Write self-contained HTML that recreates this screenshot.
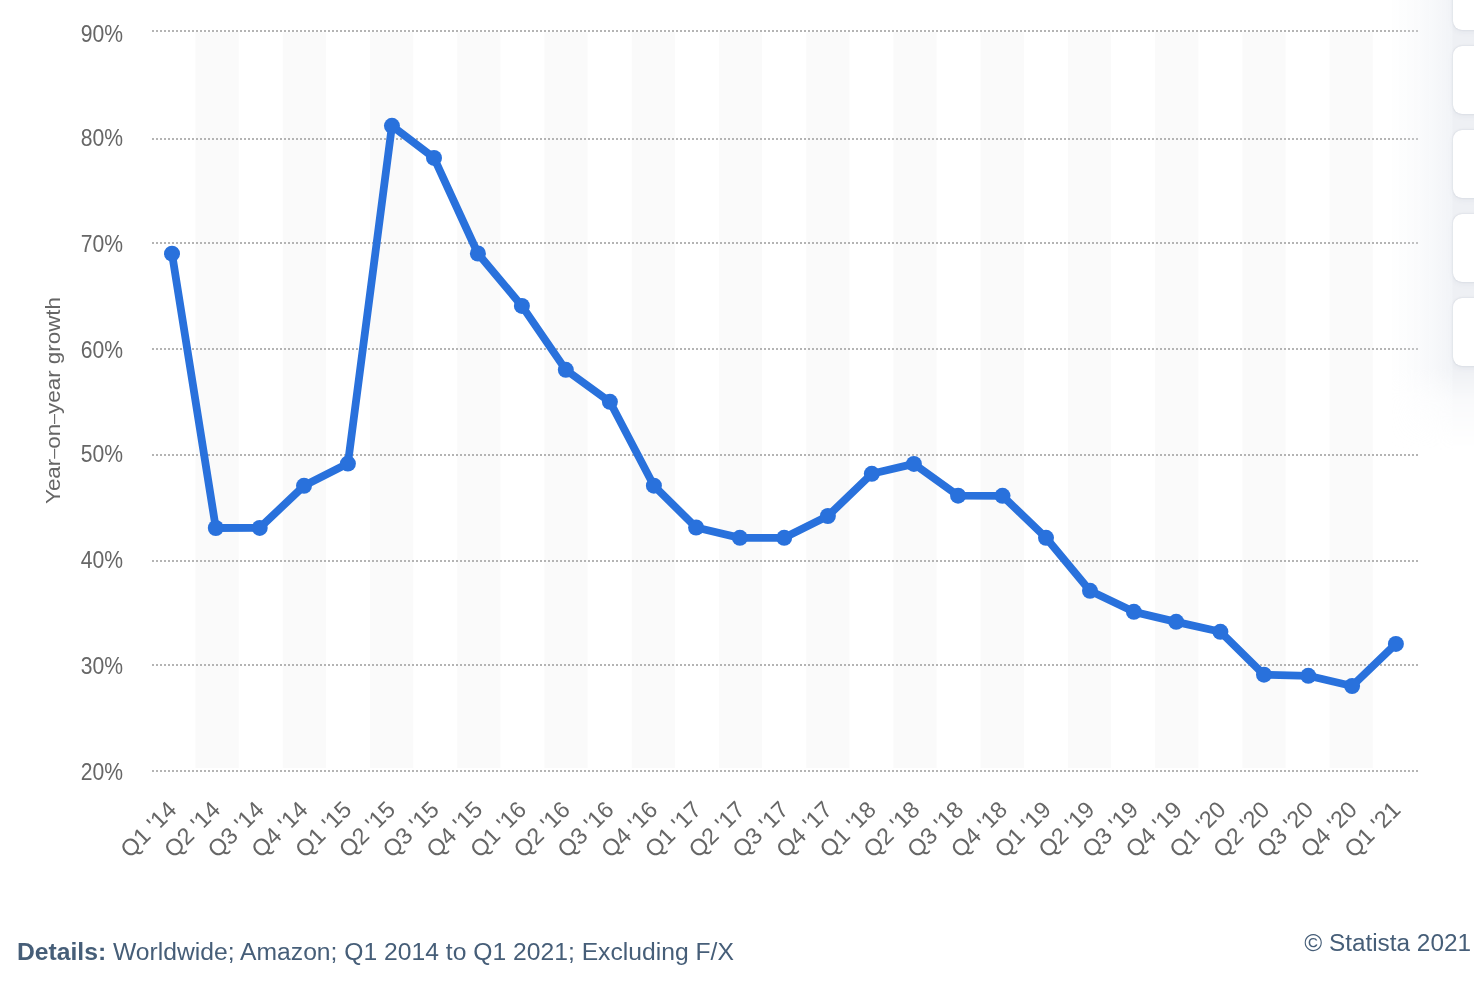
<!DOCTYPE html>
<html><head><meta charset="utf-8"><style>
html,body{margin:0;padding:0;background:#fff;width:1474px;height:990px;overflow:hidden;position:relative;font-family:"Liberation Sans", sans-serif;}
svg{position:absolute;left:0;top:0;will-change:transform;}
.yl{font-size:24px;fill:#666;}
.yt{font-size:20px;fill:#666;}
.xl{font-size:23.3px;fill:#666;}
.details{will-change:transform;position:absolute;left:17px;top:937px;transform:scaleX(1.05);transform-origin:0 0;font-size:23.5px;color:#465e78;white-space:nowrap;line-height:30px;}
.details b{font-weight:bold;}
.copy{will-change:transform;position:absolute;right:2.5px;top:928px;transform:scaleX(1.036);transform-origin:100% 0;font-size:23.5px;color:#465e78;white-space:nowrap;line-height:30px;}
.side{position:absolute;left:1453px;top:0;width:60px;height:366px;}
.btn{position:absolute;left:0;width:60px;height:68px;background:#fff;border-radius:9px;box-shadow:0 0 2px rgba(40,55,90,0.16), 0 2px 6px rgba(40,55,90,0.05);}
.shade{position:absolute;left:1388px;top:0;width:86px;height:460px;
background:linear-gradient(to right, rgba(236,239,244,0) 0px, rgba(236,239,244,0.25) 30px, rgba(236,239,244,0.5) 52px, rgba(236,239,244,0.7) 64px, rgba(238,240,244,1) 65px, rgba(238,240,244,1) 86px);
-webkit-mask-image:linear-gradient(to bottom, #000 0px, #000 368px, rgba(0,0,0,0.35) 400px, rgba(0,0,0,0) 450px);mask-image:linear-gradient(to bottom, #000 0px, #000 368px, rgba(0,0,0,0.35) 400px, rgba(0,0,0,0) 450px);}
</style></head><body>
<svg width="1474" height="990" viewBox="0 0 1474 990">
<rect x="195.50" y="32" width="43.2" height="736" fill="#fafafa"/>
<rect x="282.74" y="32" width="43.2" height="736" fill="#fafafa"/>
<rect x="369.98" y="32" width="43.2" height="736" fill="#fafafa"/>
<rect x="457.22" y="32" width="43.2" height="736" fill="#fafafa"/>
<rect x="544.46" y="32" width="43.2" height="736" fill="#fafafa"/>
<rect x="631.70" y="32" width="43.2" height="736" fill="#fafafa"/>
<rect x="718.94" y="32" width="43.2" height="736" fill="#fafafa"/>
<rect x="806.18" y="32" width="43.2" height="736" fill="#fafafa"/>
<rect x="893.42" y="32" width="43.2" height="736" fill="#fafafa"/>
<rect x="980.66" y="32" width="43.2" height="736" fill="#fafafa"/>
<rect x="1067.90" y="32" width="43.2" height="736" fill="#fafafa"/>
<rect x="1155.14" y="32" width="43.2" height="736" fill="#fafafa"/>
<rect x="1242.38" y="32" width="43.2" height="736" fill="#fafafa"/>
<rect x="1329.62" y="32" width="43.2" height="736" fill="#fafafa"/>
<line x1="152" y1="771.0" x2="1418" y2="771.0" stroke="#b4b4b4" stroke-width="2" stroke-dasharray="2 2"/>
<line x1="152" y1="665.0" x2="1418" y2="665.0" stroke="#b4b4b4" stroke-width="2" stroke-dasharray="2 2"/>
<line x1="152" y1="561.0" x2="1418" y2="561.0" stroke="#b4b4b4" stroke-width="2" stroke-dasharray="2 2"/>
<line x1="152" y1="455.0" x2="1418" y2="455.0" stroke="#b4b4b4" stroke-width="2" stroke-dasharray="2 2"/>
<line x1="152" y1="349.0" x2="1418" y2="349.0" stroke="#b4b4b4" stroke-width="2" stroke-dasharray="2 2"/>
<line x1="152" y1="243.0" x2="1418" y2="243.0" stroke="#b4b4b4" stroke-width="2" stroke-dasharray="2 2"/>
<line x1="152" y1="139.0" x2="1418" y2="139.0" stroke="#b4b4b4" stroke-width="2" stroke-dasharray="2 2"/>
<line x1="152" y1="31.0" x2="1418" y2="31.0" stroke="#b4b4b4" stroke-width="2" stroke-dasharray="2 2"/>
<text transform="translate(123.1,780.0) scale(0.88,1)" text-anchor="end" class="yl">20%</text>
<text transform="translate(123.1,674.0) scale(0.88,1)" text-anchor="end" class="yl">30%</text>
<text transform="translate(123.1,568.1) scale(0.88,1)" text-anchor="end" class="yl">40%</text>
<text transform="translate(123.1,462.1) scale(0.88,1)" text-anchor="end" class="yl">50%</text>
<text transform="translate(123.1,358.1) scale(0.88,1)" text-anchor="end" class="yl">60%</text>
<text transform="translate(123.1,252.0) scale(0.88,1)" text-anchor="end" class="yl">70%</text>
<text transform="translate(123.1,146.0) scale(0.88,1)" text-anchor="end" class="yl">80%</text>
<text transform="translate(123.1,42.0) scale(0.88,1)" text-anchor="end" class="yl">90%</text>
<text transform="translate(59.7,400.5) rotate(-90) scale(1.12,1)" text-anchor="middle" class="yt">Year<tspan font-size="16" dy="-1.2">–</tspan><tspan dy="1.2">on</tspan><tspan font-size="16" dy="-1.2">–</tspan><tspan dy="1.2">year growth</tspan></text>
<text transform="translate(178.0,811) rotate(-45) scale(1.0,1)" text-anchor="end" class="xl">Q1 '14</text>
<text transform="translate(221.7,811) rotate(-45) scale(1.0,1)" text-anchor="end" class="xl">Q2 '14</text>
<text transform="translate(265.4,811) rotate(-45) scale(1.0,1)" text-anchor="end" class="xl">Q3 '14</text>
<text transform="translate(309.1,811) rotate(-45) scale(1.0,1)" text-anchor="end" class="xl">Q4 '14</text>
<text transform="translate(352.9,811) rotate(-45) scale(1.0,1)" text-anchor="end" class="xl">Q1 '15</text>
<text transform="translate(396.6,811) rotate(-45) scale(1.0,1)" text-anchor="end" class="xl">Q2 '15</text>
<text transform="translate(440.3,811) rotate(-45) scale(1.0,1)" text-anchor="end" class="xl">Q3 '15</text>
<text transform="translate(484.0,811) rotate(-45) scale(1.0,1)" text-anchor="end" class="xl">Q4 '15</text>
<text transform="translate(527.7,811) rotate(-45) scale(1.0,1)" text-anchor="end" class="xl">Q1 '16</text>
<text transform="translate(571.4,811) rotate(-45) scale(1.0,1)" text-anchor="end" class="xl">Q2 '16</text>
<text transform="translate(615.1,811) rotate(-45) scale(1.0,1)" text-anchor="end" class="xl">Q3 '16</text>
<text transform="translate(658.9,811) rotate(-45) scale(1.0,1)" text-anchor="end" class="xl">Q4 '16</text>
<text transform="translate(702.6,811) rotate(-45) scale(1.0,1)" text-anchor="end" class="xl">Q1 '17</text>
<text transform="translate(746.3,811) rotate(-45) scale(1.0,1)" text-anchor="end" class="xl">Q2 '17</text>
<text transform="translate(790.0,811) rotate(-45) scale(1.0,1)" text-anchor="end" class="xl">Q3 '17</text>
<text transform="translate(833.7,811) rotate(-45) scale(1.0,1)" text-anchor="end" class="xl">Q4 '17</text>
<text transform="translate(877.4,811) rotate(-45) scale(1.0,1)" text-anchor="end" class="xl">Q1 '18</text>
<text transform="translate(921.1,811) rotate(-45) scale(1.0,1)" text-anchor="end" class="xl">Q2 '18</text>
<text transform="translate(964.9,811) rotate(-45) scale(1.0,1)" text-anchor="end" class="xl">Q3 '18</text>
<text transform="translate(1008.6,811) rotate(-45) scale(1.0,1)" text-anchor="end" class="xl">Q4 '18</text>
<text transform="translate(1052.3,811) rotate(-45) scale(1.0,1)" text-anchor="end" class="xl">Q1 '19</text>
<text transform="translate(1096.0,811) rotate(-45) scale(1.0,1)" text-anchor="end" class="xl">Q2 '19</text>
<text transform="translate(1139.7,811) rotate(-45) scale(1.0,1)" text-anchor="end" class="xl">Q3 '19</text>
<text transform="translate(1183.4,811) rotate(-45) scale(1.0,1)" text-anchor="end" class="xl">Q4 '19</text>
<text transform="translate(1227.1,811) rotate(-45) scale(1.0,1)" text-anchor="end" class="xl">Q1 '20</text>
<text transform="translate(1270.9,811) rotate(-45) scale(1.0,1)" text-anchor="end" class="xl">Q2 '20</text>
<text transform="translate(1314.6,811) rotate(-45) scale(1.0,1)" text-anchor="end" class="xl">Q3 '20</text>
<text transform="translate(1358.3,811) rotate(-45) scale(1.0,1)" text-anchor="end" class="xl">Q4 '20</text>
<text transform="translate(1402.0,811) rotate(-45) scale(1.0,1)" text-anchor="end" class="xl">Q1 '21</text>
<polyline points="172.00,253.70 215.80,528.00 259.70,527.95 304.00,485.80 347.90,463.60 391.95,125.80 434.00,157.90 477.90,253.50 521.90,305.90 565.80,369.85 609.90,401.80 653.90,485.70 696.10,527.50 739.90,537.85 784.20,537.85 827.90,516.00 871.80,473.80 913.90,463.90 958.10,495.70 1002.50,495.85 1046.00,537.80 1090.00,590.85 1133.90,611.85 1176.20,621.85 1220.40,631.80 1264.00,674.70 1308.30,675.80 1352.10,686.00 1395.90,643.90" fill="none" stroke="#2971dc" stroke-width="7.8" stroke-linejoin="round" stroke-linecap="round"/>
<circle cx="172.00" cy="253.70" r="8" fill="#2971dc"/>
<circle cx="215.80" cy="528.00" r="8" fill="#2971dc"/>
<circle cx="259.70" cy="527.95" r="8" fill="#2971dc"/>
<circle cx="304.00" cy="485.80" r="8" fill="#2971dc"/>
<circle cx="347.90" cy="463.60" r="8" fill="#2971dc"/>
<circle cx="391.95" cy="125.80" r="8" fill="#2971dc"/>
<circle cx="434.00" cy="157.90" r="8" fill="#2971dc"/>
<circle cx="477.90" cy="253.50" r="8" fill="#2971dc"/>
<circle cx="521.90" cy="305.90" r="8" fill="#2971dc"/>
<circle cx="565.80" cy="369.85" r="8" fill="#2971dc"/>
<circle cx="609.90" cy="401.80" r="8" fill="#2971dc"/>
<circle cx="653.90" cy="485.70" r="8" fill="#2971dc"/>
<circle cx="696.10" cy="527.50" r="8" fill="#2971dc"/>
<circle cx="739.90" cy="537.85" r="8" fill="#2971dc"/>
<circle cx="784.20" cy="537.85" r="8" fill="#2971dc"/>
<circle cx="827.90" cy="516.00" r="8" fill="#2971dc"/>
<circle cx="871.80" cy="473.80" r="8" fill="#2971dc"/>
<circle cx="913.90" cy="463.90" r="8" fill="#2971dc"/>
<circle cx="958.10" cy="495.70" r="8" fill="#2971dc"/>
<circle cx="1002.50" cy="495.85" r="8" fill="#2971dc"/>
<circle cx="1046.00" cy="537.80" r="8" fill="#2971dc"/>
<circle cx="1090.00" cy="590.85" r="8" fill="#2971dc"/>
<circle cx="1133.90" cy="611.85" r="8" fill="#2971dc"/>
<circle cx="1176.20" cy="621.85" r="8" fill="#2971dc"/>
<circle cx="1220.40" cy="631.80" r="8" fill="#2971dc"/>
<circle cx="1264.00" cy="674.70" r="8" fill="#2971dc"/>
<circle cx="1308.30" cy="675.80" r="8" fill="#2971dc"/>
<circle cx="1352.10" cy="686.00" r="8" fill="#2971dc"/>
<circle cx="1395.90" cy="643.90" r="8" fill="#2971dc"/>
</svg>
<div class="details"><b>Details:</b> Worldwide; Amazon; Q1 2014 to Q1 2021; Excluding F/X</div>
<div class="copy">© Statista 2021</div>
<div class="shade"></div>
<div class="side">
<div class="btn" style="top:-38px"></div>
<div class="btn" style="top:46px"></div>
<div class="btn" style="top:130px"></div>
<div class="btn" style="top:214px"></div>
<div class="btn" style="top:298px"></div>
</div>
</body></html>
